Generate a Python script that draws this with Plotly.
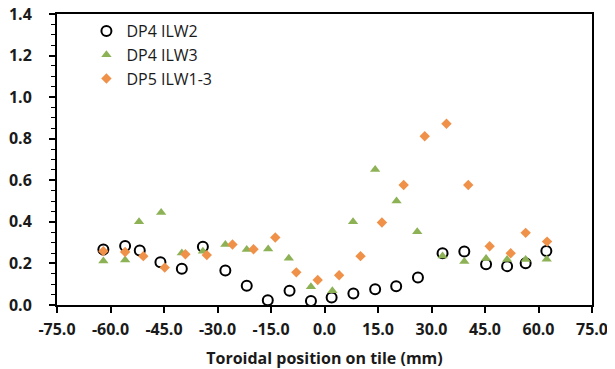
import plotly.graph_objects as go

ilw2_x = [-62.0, -55.9, -51.8, -46.0, -40.0, -34.1, -27.8, -21.8, -15.9, -9.8, -3.8, 2.0, 8.1, 14.2, 20.1, 26.2, 33.1, 39.2, 45.3, 51.2, 56.4, 62.2]
ilw2_y = [0.267, 0.284, 0.262, 0.206, 0.174, 0.280, 0.166, 0.093, 0.023, 0.069, 0.019, 0.036, 0.055, 0.076, 0.090, 0.132, 0.249, 0.257, 0.196, 0.187, 0.201, 0.260]

ilw3_x = [-62.0, -55.9, -52.0, -45.8, -40.0, -34.1, -27.8, -21.8, -15.8, -10.0, -3.8, 2.2, 8.0, 14.2, 20.2, 26.0, 33.1, 39.2, 45.3, 51.2, 56.4, 62.3]
ilw3_y = [0.212, 0.217, 0.400, 0.445, 0.250, 0.259, 0.291, 0.267, 0.270, 0.225, 0.088, 0.068, 0.400, 0.652, 0.500, 0.352, 0.236, 0.209, 0.224, 0.219, 0.219, 0.220]

dp5_x = [-62.0, -55.9, -50.8, -44.8, -39.0, -33.0, -25.8, -19.9, -13.8, -7.9, -1.9, 4.1, 10.1, 16.1, 22.2, 28.1, 34.2, 40.3, 46.3, 52.2, 56.4, 62.4]
dp5_y = [0.259, 0.255, 0.235, 0.180, 0.244, 0.240, 0.291, 0.268, 0.325, 0.157, 0.120, 0.143, 0.235, 0.397, 0.577, 0.812, 0.872, 0.577, 0.283, 0.249, 0.347, 0.305]

series_names = ["DP4 ILW2", "DP4 ILW3", "DP5 ILW1-3"]
x_ticks = [-75, -60, -45, -30, -15, 0, 15, 30, 45, 60, 75]
y_ticks = [0.0, 0.2, 0.4, 0.6, 0.8, 1.0, 1.2, 1.4]

fig = go.Figure()
fig.add_trace(go.Scatter(x=ilw2_x, y=ilw2_y, mode="markers", name=series_names[0],
                         marker=dict(symbol="circle-open", size=10, color="black", line=dict(width=2, color="black"))))
fig.add_trace(go.Scatter(x=ilw3_x, y=ilw3_y, mode="markers", name=series_names[1],
                         marker=dict(symbol="triangle-up", size=9, color="#8DB255")))
fig.add_trace(go.Scatter(x=dp5_x, y=dp5_y, mode="markers", name=series_names[2],
                         marker=dict(symbol="diamond", size=8, color="#F0914A")))

font_family = "'Open Sans', sans-serif"
text_color = "#1a1a1a"
fig.update_layout(
    width=607, height=361,
    margin=dict(l=49, r=23, t=6, b=64),
    paper_bgcolor="white", plot_bgcolor="white",
    font=dict(family=font_family, color=text_color),
    showlegend=True,
    legend=dict(x=0.055, y=1.0, xanchor="left", yanchor="top",
                font=dict(size=16, color=text_color), bgcolor="rgba(0,0,0,0)",
                itemwidth=30, tracegroupgap=0),
    xaxis=dict(range=[-75, 75], tickvals=x_ticks, ticktext=[f"<b>{v:.1f}</b>" for v in x_ticks],
               showgrid=False, zeroline=False, showline=True, linecolor="black", linewidth=2,
               mirror=True, ticks="outside", ticklen=6, tickwidth=1.5, tickcolor="black",
               ticklabelstandoff=3, automargin=False, ticklabeloverflow="allow",
               tickfont=dict(size=16, color=text_color),
               title=dict(text="<b>Toroidal position on tile (mm)</b>", font=dict(size=16, color=text_color), standoff=14)),
    yaxis=dict(range=[0, 1.4], tickvals=y_ticks, ticktext=[f"<b>{v:.1f}</b>" for v in y_ticks],
               showgrid=False, zeroline=False, showline=True, linecolor="black", linewidth=2,
               mirror=True, ticks="outside", ticklen=6, tickwidth=1.5, tickcolor="black",
               ticklabelstandoff=14, automargin=False, ticklabeloverflow="allow",
               minor=dict(dtick=0.05, ticks="outside", ticklen=4, tickcolor="black", tickwidth=1),
               tickfont=dict(size=16, color=text_color)),
)

fig.write_html("out.html")
